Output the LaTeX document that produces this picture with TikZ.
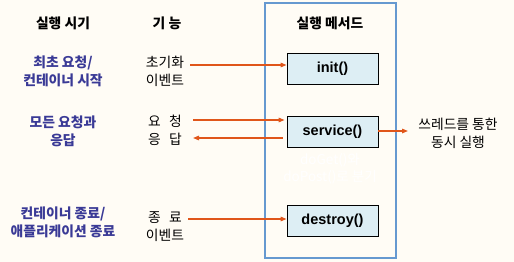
\documentclass[tikz,border=0pt]{standalone}
\usepackage{fontspec}
\setmainfont{Noto Sans CJK KR}
\newfontfamily\latinb{Liberation Sans}
\usetikzlibrary{arrows.meta}
\definecolor{bgc}{HTML}{FFFCF5}
\definecolor{frameblue}{HTML}{6699D0}
\definecolor{boxfill}{HTML}{DDEEF4}
\definecolor{navytext}{HTML}{3A3A96}
\definecolor{arrorange}{HTML}{E0561A}
\tikzset{
  hdr/.style={font=\fontsize{13.8}{18}\selectfont\bfseries, text=black, align=center},
  whentxt/.style={font=\fontsize{13.8}{18}\selectfont\bfseries, text=navytext, align=center},
  functxt/.style={font=\fontsize{13.8}{18}\selectfont, text=black, align=center},
  methodbox/.style={draw=black, line width=0.8pt, fill=boxfill, minimum width=91pt, minimum height=31pt, inner sep=0pt, font=\latinb\fontsize{14.5}{16}\selectfont\bfseries},
  flow/.style={draw=arrorange, line width=1.3pt, -{Triangle[length=6pt,width=4.5pt]}},
  hidden/.style={font=\fontsize{13.5}{17}\selectfont, text=white, align=center}
}
\begin{document}
\begin{tikzpicture}[x=1pt,y=-1pt]
\fill[bgc] (0,0) rectangle (514,262);
\useasboundingbox (0,0) rectangle (514,262);
% frame
\node[draw=frameblue, line width=2.5pt, minimum width=131pt, minimum height=255pt, inner sep=0pt] (frame) at (330.5,130.5) {};
% headers
\node[hdr] (h1) at (63,23) {실행 시기};
\node[hdr] (h2) at (167,23) {기 능};
\node[hdr] (h3) at (330,23) {실행 메서드};
% method boxes
\node[methodbox] (init) at (332.5,68.5) {init()};
\node[methodbox] (service) at (332.5,131.5) {service()};
\node[methodbox] (destroy) at (332.5,221) {destroy()};
% when column
\node[whentxt] (w1) at (63,71) {최초 요청/\\컨테이너 시작};
\node[whentxt] (w2) at (63,131) {모든 요청과\\응답};
\node[whentxt] (w3) at (63,222) {컨테이너 종료/\\애플리케이션 종료};
% function column
\node[functxt] (f1) at (165,71) {초기화\\이벤트};
\node[functxt] (f2a) at (165,121) {요\hspace{0.6em}청};
\node[functxt] (f2b) at (165,139) {응\hspace{0.6em}답};
\node[functxt] (f3) at (165,227) {종\hspace{0.6em}료\\이벤트};
% thread text
\node[functxt] (thr) at (458,133) {쓰레드를 통한\\동시 실행};
% hidden white text
\node[hidden] (branch) at (330,168.5) {doGet()와\\doPost()로 분기};
% arrows
\coordinate (a1) at (190,65);
\draw[flow] (a1) -- (a1 -| init.west);
\coordinate (a2) at (193,120);
\draw[flow] (a2) -- ([xshift=-2pt]a2 -| service.west);
\coordinate (a3) at (193,138);
\draw[flow] ([xshift=-4pt]a3 -| service.west) -- (a3);
\coordinate (a4) at (188,219);
\draw[flow] (a4) -- (a4 -| destroy.west);
\coordinate (a5) at (408,131);
\draw[flow] (service.east |- a5) -- (a5);
\end{tikzpicture}
\end{document}
